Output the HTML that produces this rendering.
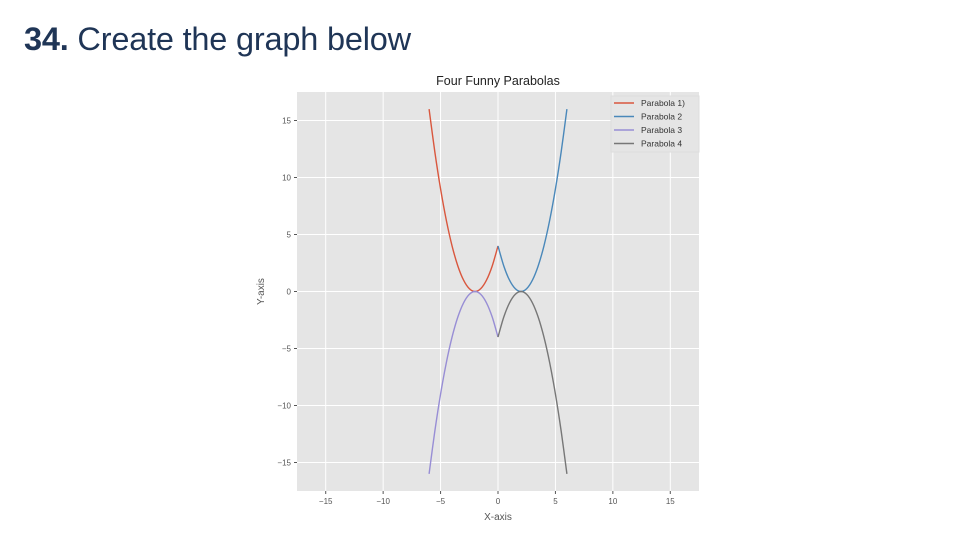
<!DOCTYPE html>
<html><head><meta charset="utf-8"><style>
body{margin:0;width:960px;height:540px;background:#fff;overflow:hidden;font-family:"Liberation Sans",sans-serif;position:relative}
#title{position:absolute;left:24px;top:21px;font-size:32.5px;color:#1f3556;letter-spacing:-0.2px}
#title b{font-weight:bold}
svg{position:absolute;left:0;top:0}
</style></head><body>
<div id="title"><b>34.</b> Create the graph below</div>
<svg id="c" width="960" height="540"></svg>
<script>
const xTicks=[-15,-10,-5,0,5,10,15];
const yTicks=[15,10,5,0,-5,-10,-15];
const seriesNames=["Parabola 1)","Parabola 2","Parabola 3","Parabola 4"];
const seriesColors=["#d9573e","#4a88ba","#988ed5","#777777"];
const x1=[-6,-5.5,-5,-4.5,-4,-3.5,-3,-2.5,-2,-1.5,-1,-0.5,0];
const y1=[16,12.25,9,6.25,4,2.25,1,0.25,0,0.25,1,2.25,4];
const x2=[0,0.5,1,1.5,2,2.5,3,3.5,4,4.5,5,5.5,6];
const y2=[4,2.25,1,0.25,0,0.25,1,2.25,4,6.25,9,12.25,16];
const x3=[-6,-5.5,-5,-4.5,-4,-3.5,-3,-2.5,-2,-1.5,-1,-0.5,0];
const y3=[-16,-12.25,-9,-6.25,-4,-2.25,-1,-0.25,0,-0.25,-1,-2.25,-4];
const x4=[0,0.5,1,1.5,2,2.5,3,3.5,4,4.5,5,5.5,6];
const y4=[-4,-2.25,-1,-0.25,0,-0.25,-1,-2.25,-4,-6.25,-9,-12.25,-16];
const L=297,R=699,T=92,B=491;
const sx=v=>L+(v+17.5)/35*(R-L);
const sy=v=>B-(v+17.5)/35*(B-T);
const NS="http://www.w3.org/2000/svg";
const svg=document.getElementById('c');
function mk(t,a,p){const e=document.createElementNS(NS,t);for(const k in a)e.setAttribute(k,a[k]);(p||svg).appendChild(e);return e;}
function smooth(P){
 let d='M'+P[0][0]+','+P[0][1];
 for(let i=0;i<P.length-1;i++){
  const p0=P[i-1]||P[i],p1=P[i],p2=P[i+1],p3=P[i+2]||p2;
  const c1=[p1[0]+(p2[0]-p0[0])/6,p1[1]+(p2[1]-p0[1])/6];
  const c2=[p2[0]-(p3[0]-p1[0])/6,p2[1]-(p3[1]-p1[1])/6];
  d+='C'+c1+' '+c2+' '+p2;
 }
 return d;
}
const bg=mk('rect',{x:L,y:T,width:R-L,height:B-T,fill:'#e5e5e5'});


xTicks.forEach(v=>{
 const g=mk('line',{x1:sx(v),x2:sx(v),y1:T,y2:B,stroke:'#fff','stroke-width':1});
 
 
 mk('line',{x1:sx(v),x2:sx(v),y1:B,y2:B+3,stroke:'#555'});
 const t=mk('text',{x:sx(v),y:B+13,'font-size':8,fill:'#555','text-anchor':'middle'});
 t.textContent=v<0?'\u2212'+(-v):v;
 
 
});
yTicks.forEach(v=>{
 const g=mk('line',{x1:L,x2:R,y1:sy(v),y2:sy(v),stroke:'#fff','stroke-width':1});
 
 
 mk('line',{x1:L-3,x2:L,y1:sy(v),y2:sy(v),stroke:'#555'});
 const t=mk('text',{x:L-6,y:sy(v)+3,'font-size':8,fill:'#555','text-anchor':'end'});
 t.textContent=v<0?'\u2212'+(-v):v;
 
 
});
const xs=[x1,x2,x3,x4],ys=[y1,y2,y3,y4];
xs.forEach((xa,i)=>{
 const P=xa.map((x,j)=>[sx(x),sy(ys[i][j])]);
 const p=mk('path',{d:smooth(P),fill:'none',stroke:seriesColors[i],'stroke-width':1.4});
 
 
});
const lg=mk('rect',{x:611,y:96,width:88,height:56,fill:'#e5e5e5',stroke:'#ddd'});


seriesNames.forEach((n,i)=>{
 const y=103+i*13.5;
 mk('line',{x1:614,x2:634,y1:y,y2:y,stroke:seriesColors[i],'stroke-width':1.4});
 const t=mk('text',{x:641,y:y+3,'font-size':8.5,fill:'#333'});
 t.textContent=n;
 
 
});
const tt=mk('text',{x:(L+R)/2,y:85,'font-size':12.5,fill:'#222','text-anchor':'middle'});
tt.textContent='Four Funny Parabolas';


const xl=mk('text',{x:(L+R)/2,y:520,'font-size':10,fill:'#555','text-anchor':'middle'});
xl.textContent='X-axis';


const yl=mk('text',{x:264,y:(T+B)/2,'font-size':10,fill:'#555','text-anchor':'middle',transform:'rotate(-90 264 '+(T+B)/2+')'});
yl.textContent='Y-axis';


</script>
</body></html>
